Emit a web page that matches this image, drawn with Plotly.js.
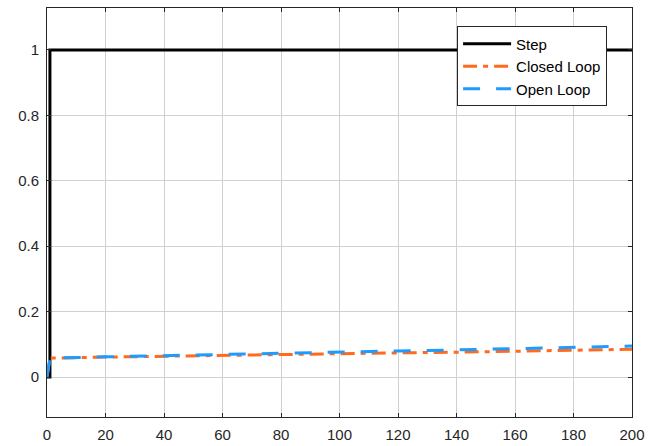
<!DOCTYPE html>
<html>
<head>
<meta charset="utf-8">
<script src="https://cdn.plot.ly/plotly-3.0.1.min.js"></script>
<style>
  html, body { margin: 0; padding: 0; background: #fff; }
  #chart { width: 662px; height: 446px; }
</style>
</head>
<body>
<div id="chart"></div>
<script>
// Step input and responses of the two control configurations
const stepTime = [0, 1, 1, 200];
const stepValue = [0, 0, 1, 1];

const respTime = [0, 1, 20, 40, 60, 80, 100, 120, 140, 160, 180, 200];
const closedLoop = [0, 0.058, 0.061, 0.064, 0.066, 0.069, 0.071, 0.074, 0.076, 0.079, 0.082, 0.085];
const openLoop   = [0, 0.058, 0.062, 0.066, 0.069, 0.073, 0.076, 0.080, 0.083, 0.087, 0.091, 0.095];

const xTicks = [0, 20, 40, 60, 80, 100, 120, 140, 160, 180, 200];
const yTicks = [0, 0.2, 0.4, 0.6, 0.8, 1];

const axisColor = '#262626';
const gridColor = '#d0d0d0';
const fontFamily = 'Liberation Sans, Arial, sans-serif';

const traces = [
  {
    x: stepTime, y: stepValue, name: 'Step', type: 'scatter', mode: 'lines',
    line: { color: '#000000', width: 3 }
  },
  {
    x: respTime, y: closedLoop, name: 'Closed Loop', type: 'scatter', mode: 'lines',
    line: { color: '#ff6a1f', width: 3, dash: '14px,6px,5px,6px' }
  },
  {
    x: respTime, y: openLoop, name: 'Open Loop', type: 'scatter', mode: 'lines',
    line: { color: '#1e9bff', width: 3, dash: '17px,16px' }
  }
];

const baseAxis = {
  showline: true, linecolor: axisColor, linewidth: 1, mirror: 'ticks',
  ticks: 'inside', ticklen: 4, tickcolor: axisColor,
  showgrid: true, gridcolor: gridColor, gridwidth: 1,
  zeroline: false,
  tickfont: { family: fontFamily, size: 15, color: axisColor }
};

const layout = {
  width: 662, height: 446,
  margin: { l: 47, r: 30, t: 8, b: 29 },
  paper_bgcolor: '#ffffff', plot_bgcolor: '#ffffff',
  showlegend: true,
  xaxis: Object.assign({}, baseAxis, {
    range: [0, 200], tickmode: 'array', tickvals: xTicks,
    ticktext: xTicks.map(String), ticklabelstandoff: 4
  }),
  yaxis: Object.assign({}, baseAxis, {
    range: [-0.122, 1.128], tickmode: 'array', tickvals: yTicks,
    ticktext: yTicks.map(String), ticklabelstandoff: 4
  }),
  legend: {
    x: 0.701, y: 0.955, xanchor: 'left', yanchor: 'top',
    bgcolor: '#ffffff', bordercolor: axisColor, borderwidth: 1,
    font: { family: fontFamily, size: 15, color: '#000000' },
    itemwidth: 48,
    tracegroupgap: 0
  }
};

Plotly.newPlot('chart', traces, layout, { displayModeBar: false, staticPlot: true });
</script>
</body>
</html>
